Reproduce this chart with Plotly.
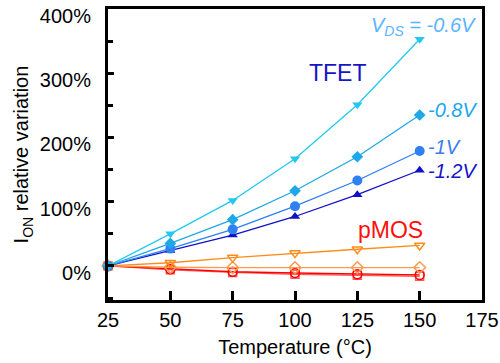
import plotly.graph_objects as go

temps = [25, 50, 75, 100, 125, 150]

tfet_06 = [0, 50, 102, 167, 251, 353]
tfet_08 = [0, 35, 72, 117, 170, 235]
tfet_10 = [0, 27, 57, 93, 133, 179]
tfet_12 = [0, 24, 48, 77, 111, 149]

pmos_tri = [0, 5, 13, 20, 26, 32]
pmos_dia = [0, -2, -2.5, -2.5, -2.5, -2.5]
pmos_circ = [0, -5, -9, -11, -13, -14]
pmos_sq = [0, -6, -10, -13, -14.5, -16]

L, R, T, B = 108, 18, 9, 63
W, H = 500, 363
PW, PH = W - L - R, H - T - B

fig = go.Figure()

def add(y, color, symbol, size, open_=False):
    fig.add_trace(go.Scatter(
        x=temps, y=y, mode="lines+markers",
        line=dict(color=color, width=1.3),
        marker=dict(symbol=symbol + ("-open" if open_ else ""), size=size, color=color,
                    line=dict(color=color, width=1.5 if open_ else 0)),
        showlegend=False, cliponaxis=False))

add(pmos_sq, "#ff5a5a", "square", 8, True)
add(pmos_circ, "#ff0000", "circle", 9, True)
add(pmos_dia, "#ff9a50", "diamond", 9, True)
add(pmos_tri, "#ff8c1a", "triangle-down", 9, True)

add(tfet_12, "#1010c8", "triangle-up", 9)
add(tfet_10, "#2f7ff5", "circle", 10)
add(tfet_08, "#1ea8e8", "diamond", 9)
add(tfet_06, "#22c8f2", "triangle-down", 9)

font = "Liberation Sans, Arial, sans-serif"
ann = [
    dict(x=338, y=73, text="TFET", color="#1414c8", size=23, anchor="center"),
    dict(x=390, y=230, text="pMOS", color="#ff1010", size=23, anchor="center"),
    dict(x=478, y=26, text="<i>V<sub>DS</sub> = -0.6V</i>", color="#5ab4ff", size=20, anchor="right"),
    dict(x=426, y=110, text="<i>-0.8V</i>", color="#1ea5f0", size=20, anchor="left"),
    dict(x=426, y=147, text="<i>-1V</i>", color="#3c7cf0", size=20, anchor="left"),
    dict(x=426, y=171, text="<i>-1.2V</i>", color="#1414c8", size=20, anchor="left"),
]
for a in ann:
    fig.add_annotation(x=(a["x"] - L) / PW, y=(H - B - a["y"]) / PH, xref="paper", yref="paper",
                       text=a["text"], showarrow=False, xanchor=a["anchor"], yanchor="middle",
                       font=dict(family=font, size=a["size"], color=a["color"]))

fig.update_layout(
    width=W, height=H,
    margin=dict(l=L, r=R, t=T, b=B),
    paper_bgcolor="white", plot_bgcolor="white",
    font=dict(family=font, size=20, color="black"),
    xaxis=dict(range=[25, 175], tickvals=[25, 50, 75, 100, 125, 150, 175],
               showline=True, linecolor="black", linewidth=3, mirror=True,
               ticks="inside", ticklen=9, tickwidth=3, tickcolor="black",
               showgrid=False, zeroline=False, automargin=False,
               title=dict(text="Temperature (°C)", standoff=10, font=dict(size=20))),
    yaxis=dict(range=[-53, 400], tickvals=[0, 100, 200, 300, 400],
               ticktext=["0%", "100%", "200%", "300%", "400%"],
               showline=True, linecolor="black", linewidth=3, mirror=True,
               ticks="inside", ticklen=6, tickwidth=3, tickcolor="black",
               minor=dict(dtick=50, tick0=0, ticks="inside", ticklen=5, tickwidth=3, tickcolor="black"),
               showgrid=False, zeroline=False, ticklabelstandoff=10, ticklabelshift=7,
               automargin=False,
               title=dict(text="I<sub>ON</sub> relative variation", standoff=6, font=dict(size=20))),
)

fig.write_html("out.html")
